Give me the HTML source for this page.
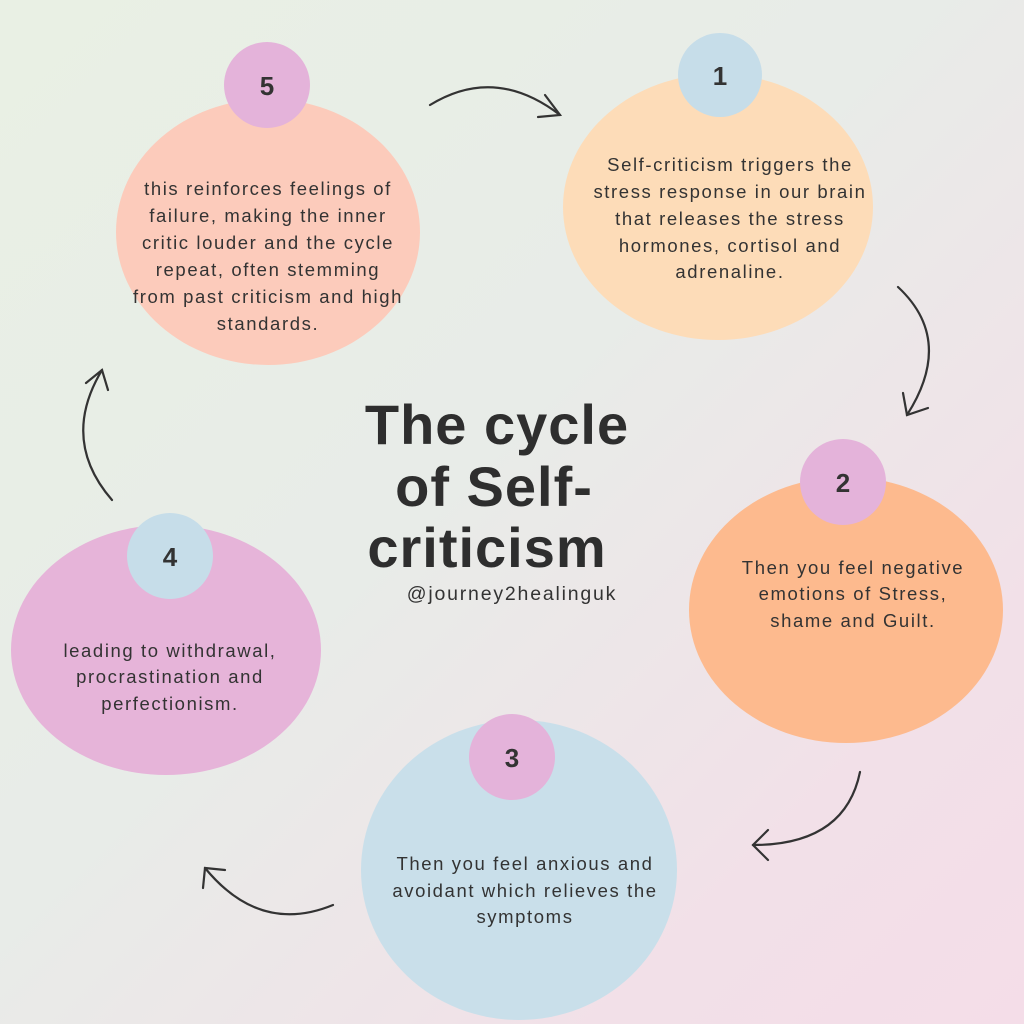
<!DOCTYPE html>
<html><head><style>
html,body{margin:0;padding:0}
body{width:1024px;height:1024px;overflow:hidden;background:linear-gradient(135deg,#e9f0e4 0%,#e8ece8 45%,#f2e0e8 80%,#f4dde8 100%);font-family:"Liberation Sans",sans-serif}
svg{position:absolute;left:0;top:0}
</style></head><body>
<svg width="1024" height="1024" viewBox="0 0 1024 1024">
<g>
<ellipse cx="268" cy="232" rx="152" ry="133" fill="#fccbbb"/>
<ellipse cx="718" cy="207" rx="155" ry="133" fill="#fddcb8"/>
<ellipse cx="846" cy="610" rx="157" ry="133" fill="#fdba8e"/>
<ellipse cx="519" cy="870" rx="158" ry="150" fill="#c9dfea"/>
<ellipse cx="166" cy="650" rx="155" ry="125" fill="#e6b4d9"/>
<circle cx="267" cy="85" r="43" fill="#e4b3da"/>
<circle cx="720" cy="75" r="42" fill="#c6dde9"/>
<circle cx="843" cy="482" r="43" fill="#e4b3da"/>
<circle cx="512" cy="757" r="43" fill="#e4b3da"/>
<circle cx="170" cy="556" r="43" fill="#c6dde9"/>
</g>
<g font-family="Liberation Sans, sans-serif" font-weight="bold" font-size="26" fill="#333" text-anchor="middle">
<text x="267" y="95">5</text><text x="720" y="85">1</text><text x="843" y="492">2</text><text x="512" y="767">3</text><text x="170" y="566">4</text>
</g>
<g fill="none" stroke="#333" stroke-width="2.2" stroke-linecap="round">
<path d="M430 105 Q495 65 560 115"/><path d="M545 95 L560 115 L538 117"/>
<path d="M898 287 Q955 340 907 415"/><path d="M903 393 L907 415 L928 408"/>
<path d="M860 772 Q845 845 753 845"/><path d="M768 830 L753 845 L768 860"/>
<path d="M333 905 Q260 935 205 868"/><path d="M203 888 L205 868 L225 870"/>
<path d="M112 500 Q60 440 102 370"/><path d="M86 383 L102 370 L108 390"/>
</g>
<g font-family="Liberation Sans, sans-serif" font-size="18.5" letter-spacing="1.6" fill="#333" text-anchor="middle">
<text x="268" y="195">this reinforces feelings of</text>
<text x="268" y="222">failure, making the inner</text>
<text x="268" y="249">critic louder and the cycle</text>
<text x="268" y="276">repeat, often stemming</text>
<text x="268" y="303">from past criticism and high</text>
<text x="268" y="330">standards.</text>
<text x="730" y="171">Self-criticism triggers the</text>
<text x="730" y="198">stress response in our brain</text>
<text x="730" y="225">that releases the stress</text>
<text x="730" y="252">hormones, cortisol and</text>
<text x="730" y="278">adrenaline.</text>
<text x="853" y="574">Then you feel negative</text>
<text x="853" y="600">emotions of Stress,</text>
<text x="853" y="627">shame and Guilt.</text>
<text x="525" y="870">Then you feel anxious and</text>
<text x="525" y="897">avoidant which relieves the</text>
<text x="525" y="923">symptoms</text>
<text x="170" y="657">leading to withdrawal,</text>
<text x="170" y="683">procrastination and</text>
<text x="170" y="710">perfectionism.</text>
</g>
<g font-family="Liberation Sans, sans-serif" font-weight="bold" font-size="56" letter-spacing="1" fill="#2e2e2e" text-anchor="middle">
<text x="497" y="444">The cycle</text>
<text x="494" y="506">of Self-</text>
<text x="487" y="567">criticism</text>
</g>
<text x="512" y="600" font-family="Liberation Sans, sans-serif" font-size="19.5" letter-spacing="1.8" fill="#333" text-anchor="middle">@journey2healinguk</text>
</svg>
</body></html>
